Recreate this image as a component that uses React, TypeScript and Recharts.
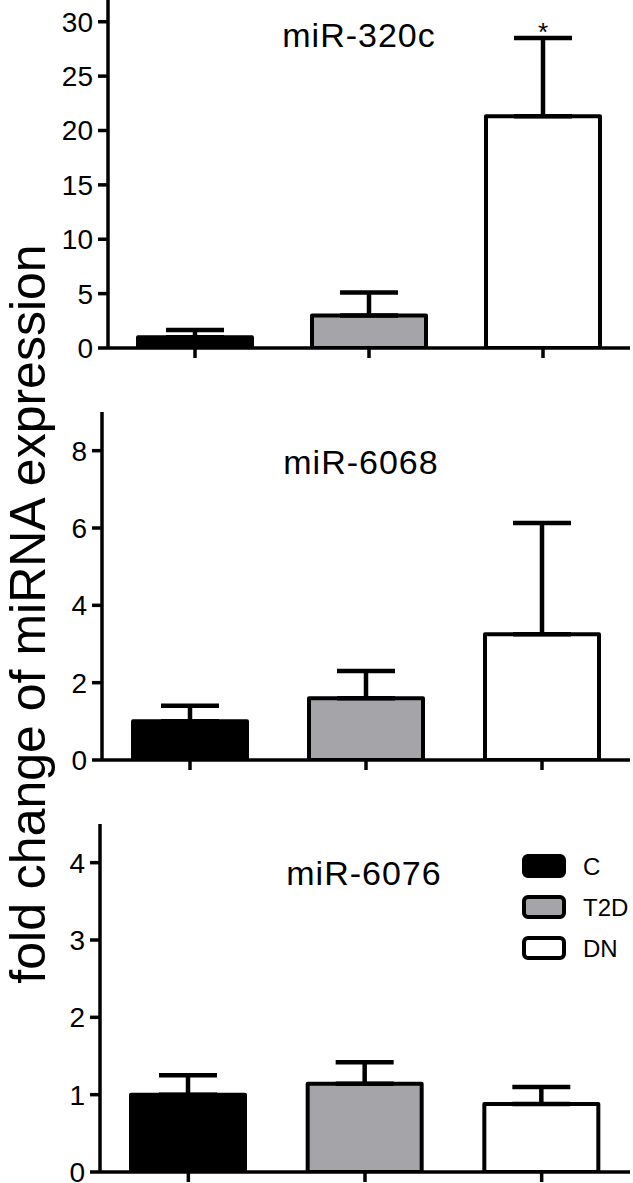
import { Bar, BarChart, Cell, ErrorBar, ReferenceDot, XAxis, YAxis } from "recharts";

const groups = ["C", "T2D", "DN"];
const groupFills = ["#000000", "#a5a4a9", "#ffffff"];

// fold change (mean) and upper error per group
const mir320cMean = [1.0, 3.0, 21.3];
const mir320cErr = [0.65, 2.1, 7.2];
const mir6068Mean = [1.0, 1.6, 3.25];
const mir6068Err = [0.4, 0.7, 2.88];
const mir6076Mean = [1.0, 1.14, 0.88];
const mir6076Err = [0.25, 0.28, 0.22];

const ticks320c = [0, 5, 10, 15, 20, 25, 30];
const ticks6068 = [0, 2, 4, 6, 8];
const ticks6076 = [0, 1, 2, 3, 4];

const FONT = "'Liberation Sans', Arial, Helvetica, sans-serif";
const INK = "#000";

type PanelProps = {
  means: number[];
  errs: number[];
  domain: [number, number];
  ticks: number[];
  top: number;
  height: number;
  marginTop: number;
  axisWidth: number;
  xAxisHeight: number;
  starGroup?: string;
};

function Panel({ means, errs, domain, ticks, top, height, marginTop, axisWidth, xAxisHeight, starGroup }: PanelProps) {
  const rows = groups.map((group, i) => ({ group, mean: means[i], err: [0, errs[i]] }));
  const starIndex = starGroup ? groups.indexOf(starGroup) : -1;

  return (
    <div style={{ position: "absolute", left: 0, top }}>
      <BarChart width={633} height={height} data={rows} margin={{ top: marginTop, right: 3, bottom: 0, left: 0 }}>
        <XAxis
          dataKey="group"
          height={xAxisHeight}
          tickSize={10}
          tickFormatter={() => ""}
          axisLine={{ stroke: INK, strokeWidth: 3.5 }}
          tickLine={{ stroke: INK, strokeWidth: 3.5 }}
        />
        <YAxis
          width={axisWidth}
          domain={domain}
          ticks={ticks}
          interval={0}
          allowDataOverflow
          tickSize={10}
          tickMargin={5}
          axisLine={{ stroke: INK, strokeWidth: 3.5 }}
          tickLine={{ stroke: INK, strokeWidth: 3.5 }}
          tick={{ fill: INK, fontSize: 28, fontFamily: FONT }}
        />
        <Bar dataKey="mean" barSize={114} stroke={INK} strokeWidth={4} strokeLinejoin="round" isAnimationActive={false}>
          {rows.map((row, i) => (
            <Cell key={row.group} fill={groupFills[i]} />
          ))}
          <ErrorBar dataKey="err" direction="y" width={29} stroke={INK} strokeWidth={4.5} isAnimationActive={false} />
        </Bar>
        {starIndex >= 0 && (
          <ReferenceDot
            x={groups[starIndex]}
            y={means[starIndex] + errs[starIndex]}
            r={0}
            stroke="none"
            label={{ value: "*", position: "top", offset: -3, fontSize: 26, fill: INK, fontFamily: FONT }}
          />
        )}
      </BarChart>
    </div>
  );
}

export default function App() {
  return (
    <div style={{ position: "absolute", left: 0, top: 0, width: 633, height: 1183, background: "#fff", fontFamily: FONT }}>
      <Panel means={mir320cMean} errs={mir320cErr} domain={[0, 32]} ticks={ticks320c} top={0} height={380} marginTop={0} axisWidth={108} xAxisHeight={32} starGroup="DN" />
      <Panel means={mir6068Mean} errs={mir6068Err} domain={[0, 9]} ticks={ticks6068} top={400} height={400} marginTop={12} axisWidth={102} xAxisHeight={40} />
      <Panel means={mir6076Mean} errs={mir6076Err} domain={[0, 4.5]} ticks={ticks6076} top={810} height={373} marginTop={14} axisWidth={100} xAxisHeight={11} />

      <svg width={633} height={1183} style={{ position: "absolute", left: 0, top: 0, pointerEvents: "none" }}>
        <text x={359} y={47} textAnchor="middle" fontSize={34} letterSpacing={1} fontFamily={FONT} fill={INK}>miR-320c</text>
        <text x={361} y={474} textAnchor="middle" fontSize={34} letterSpacing={1} fontFamily={FONT} fill={INK}>miR-6068</text>
        <text x={364} y={885} textAnchor="middle" fontSize={34} letterSpacing={1} fontFamily={FONT} fill={INK}>miR-6076</text>
        <text x={45} y={614} transform="rotate(-90 45 614)" textAnchor="middle" fontSize={50} fontFamily={FONT} fill={INK}>
          fold change of miRNA expression
        </text>
        {groups.map((g, i) => (
          <g key={g}>
            <rect x={524} y={856 + i * 41} width={40} height={20} rx={4} fill={groupFills[i]} stroke={INK} strokeWidth={4} />
            <text x={583} y={875 + i * 41} fontSize={24} fontFamily={FONT} fill={INK}>{g}</text>
          </g>
        ))}
      </svg>
    </div>
  );
}
